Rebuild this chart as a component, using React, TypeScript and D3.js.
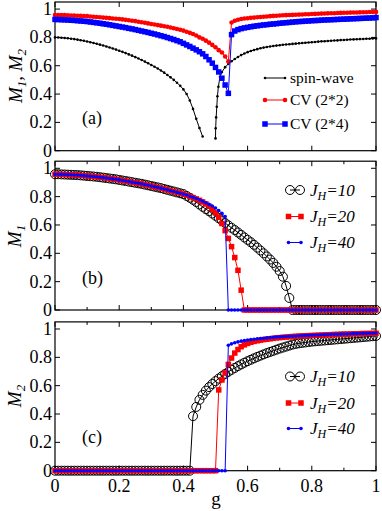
import React from "react";
import * as d3 from "d3";

// g grid (step 0.01) shared by the CV and J_H series
const gGrid = [
  0, 0.01, 0.02, 0.03, 0.04, 0.05, 0.06, 0.07, 0.08, 0.09,
  0.1, 0.11, 0.12, 0.13, 0.14, 0.15, 0.16, 0.17, 0.18, 0.19,
  0.2, 0.21, 0.22, 0.23, 0.24, 0.25, 0.26, 0.27, 0.28, 0.29,
  0.3, 0.31, 0.32, 0.33, 0.34, 0.35, 0.36, 0.37, 0.38, 0.39,
  0.4, 0.41, 0.42, 0.43, 0.44, 0.45, 0.46, 0.47, 0.48, 0.49,
  0.5, 0.51, 0.52, 0.53, 0.54, 0.55, 0.56, 0.57, 0.58, 0.59,
  0.6, 0.61, 0.62, 0.63, 0.64, 0.65, 0.66, 0.67, 0.68, 0.69,
  0.7, 0.71, 0.72, 0.73, 0.74, 0.75, 0.76, 0.77, 0.78, 0.79,
  0.8, 0.81, 0.82, 0.83, 0.84, 0.85, 0.86, 0.87, 0.88, 0.89,
  0.9, 0.91, 0.92, 0.93, 0.94, 0.95, 0.96, 0.97, 0.98, 0.99,
  1,
];

// ---- panel (a): spin-wave, CV (2*2), CV (2*4)
const spinWaveLeft: [number, number][] = [
  [0, 0.8], [0.01, 0.799], [0.02, 0.798], [0.03, 0.796], [0.04, 0.794], [0.05, 0.791],
  [0.06, 0.788], [0.07, 0.784], [0.08, 0.78], [0.09, 0.776], [0.1, 0.771], [0.11, 0.766],
  [0.12, 0.761], [0.13, 0.755], [0.14, 0.749], [0.15, 0.743], [0.16, 0.736], [0.17, 0.729],
  [0.18, 0.722], [0.19, 0.714], [0.2, 0.706], [0.21, 0.698], [0.22, 0.689], [0.23, 0.68],
  [0.24, 0.671], [0.25, 0.661], [0.26, 0.651], [0.27, 0.64], [0.28, 0.629], [0.29, 0.617],
  [0.3, 0.605], [0.31, 0.593], [0.32, 0.58], [0.33, 0.566], [0.34, 0.551], [0.35, 0.535],
  [0.36, 0.518], [0.37, 0.5], [0.38, 0.48], [0.39, 0.458], [0.4, 0.433], [0.41, 0.4],
  [0.42, 0.355], [0.43, 0.295], [0.44, 0.225], [0.45, 0.16], [0.46, 0.1],
];
const spinWaveRight: [number, number][] = [
  [0.5, 0.087], [0.5005, 0.158], [0.502, 0.235], [0.504, 0.31], [0.506, 0.385], [0.509, 0.452],
  [0.514, 0.522], [0.52, 0.555], [0.53, 0.59], [0.54, 0.612], [0.55, 0.632], [0.56, 0.648],
  [0.57, 0.662], [0.58, 0.675], [0.59, 0.686], [0.6, 0.696], [0.61, 0.704], [0.62, 0.711],
  [0.63, 0.717], [0.64, 0.723], [0.65, 0.728], [0.66, 0.732], [0.67, 0.736], [0.68, 0.739],
  [0.69, 0.742], [0.7, 0.745], [0.71, 0.748], [0.72, 0.75], [0.73, 0.752], [0.74, 0.754],
  [0.75, 0.756], [0.76, 0.758], [0.77, 0.76], [0.78, 0.762], [0.79, 0.764], [0.8, 0.766],
  [0.81, 0.768], [0.82, 0.77], [0.83, 0.772], [0.84, 0.773], [0.85, 0.775], [0.86, 0.776],
  [0.87, 0.778], [0.88, 0.779], [0.89, 0.781], [0.9, 0.782], [0.91, 0.783], [0.92, 0.785],
  [0.93, 0.786], [0.94, 0.787], [0.95, 0.788], [0.96, 0.789], [0.97, 0.79], [0.98, 0.791],
  [0.99, 0.792], [1, 0.793],
];
const cv22 = [
  0.958, 0.958, 0.957, 0.957, 0.956, 0.955, 0.954, 0.953, 0.952, 0.951,
  0.95, 0.948, 0.946, 0.944, 0.942, 0.94, 0.938, 0.936, 0.934, 0.932,
  0.93, 0.927, 0.924, 0.921, 0.918, 0.915, 0.911, 0.907, 0.903, 0.899,
  0.895, 0.891, 0.887, 0.883, 0.879, 0.875, 0.87, 0.865, 0.859, 0.854,
  0.848, 0.84, 0.832, 0.824, 0.813, 0.8, 0.79, 0.777, 0.763, 0.747,
  0.73, 0.71, 0.693, 0.665, 0.63, 0.905, 0.918, 0.925, 0.93, 0.933,
  0.935, 0.938, 0.94, 0.942, 0.944, 0.946, 0.948, 0.95, 0.952, 0.953,
  0.955, 0.956, 0.957, 0.958, 0.959, 0.96, 0.961, 0.962, 0.963, 0.964,
  0.965, 0.966, 0.967, 0.968, 0.969, 0.97, 0.971, 0.971, 0.972, 0.973,
  0.974, 0.974, 0.975, 0.976, 0.976, 0.977, 0.978, 0.978, 0.979, 0.979,
  0.98,
];
const cv24 = [
  0.927, 0.926, 0.925, 0.924, 0.923, 0.921, 0.92, 0.918, 0.916, 0.914,
  0.912, 0.909, 0.906, 0.903, 0.9, 0.896, 0.893, 0.889, 0.885, 0.881,
  0.877, 0.873, 0.869, 0.864, 0.86, 0.855, 0.85, 0.845, 0.84, 0.835,
  0.829, 0.824, 0.818, 0.812, 0.806, 0.799, 0.792, 0.785, 0.777, 0.769,
  0.758, 0.747, 0.736, 0.724, 0.712, 0.699, 0.684, 0.665, 0.642, 0.618,
  0.588, 0.556, 0.512, 0.464, 0.405, 0.82, 0.845, 0.855, 0.862, 0.867,
  0.871, 0.875, 0.879, 0.882, 0.885, 0.888, 0.89, 0.893, 0.895, 0.897,
  0.9, 0.902, 0.904, 0.906, 0.908, 0.91, 0.912, 0.913, 0.915, 0.916,
  0.918, 0.919, 0.92, 0.922, 0.923, 0.924, 0.925, 0.926, 0.927, 0.928,
  0.929, 0.93, 0.931, 0.932, 0.933, 0.934, 0.935, 0.936, 0.937, 0.938,
  0.94,
];

// ---- panel (b): M1 for J_H = 10, 20, 40
const m1J10 = [
  0.958, 0.958, 0.957, 0.956, 0.955, 0.954, 0.953, 0.952, 0.95, 0.948,
  0.946, 0.944, 0.942, 0.94, 0.937, 0.934, 0.931, 0.928, 0.925, 0.922,
  0.918, 0.914, 0.91, 0.906, 0.902, 0.898, 0.894, 0.89, 0.885, 0.88,
  0.875, 0.87, 0.865, 0.86, 0.854, 0.848, 0.842, 0.836, 0.83, 0.824,
  0.818, 0.805, 0.792, 0.778, 0.762, 0.745, 0.728, 0.712, 0.697, 0.681,
  0.665, 0.648, 0.631, 0.614, 0.597, 0.58, 0.564, 0.547, 0.53, 0.512,
  0.495, 0.478, 0.46, 0.44, 0.42, 0.4, 0.378, 0.356, 0.332, 0.305,
  0.275, 0.235, 0.17, 0.085, 0, 0, 0, 0, 0, 0,
  0, 0, 0, 0, 0, 0, 0, 0, 0, 0,
  0, 0, 0, 0, 0, 0, 0, 0, 0, 0,
  0,
];
const m1J20 = [
  0.958, 0.958, 0.957, 0.956, 0.955, 0.954, 0.953, 0.952, 0.95, 0.948,
  0.946, 0.944, 0.942, 0.94, 0.937, 0.934, 0.931, 0.928, 0.925, 0.922,
  0.918, 0.914, 0.91, 0.906, 0.902, 0.898, 0.894, 0.89, 0.885, 0.88,
  0.875, 0.87, 0.865, 0.86, 0.854, 0.848, 0.842, 0.836, 0.83, 0.824,
  0.818, 0.81, 0.802, 0.793, 0.784, 0.774, 0.762, 0.748, 0.732, 0.71,
  0.685, 0.655, 0.61, 0.56, 0.505, 0.447, 0.37, 0.28, 0.14, 0,
  0, 0, 0, 0, 0, 0, 0, 0, 0, 0,
  0, 0, 0, 0, 0, 0, 0, 0, 0, 0,
  0, 0, 0, 0, 0, 0, 0, 0, 0, 0,
  0, 0, 0, 0, 0, 0, 0, 0, 0, 0,
  0,
];
const m1J40 = [
  0.958, 0.958, 0.957, 0.956, 0.955, 0.954, 0.953, 0.952, 0.95, 0.948,
  0.946, 0.944, 0.942, 0.94, 0.937, 0.934, 0.931, 0.928, 0.925, 0.922,
  0.918, 0.914, 0.91, 0.906, 0.902, 0.898, 0.894, 0.89, 0.885, 0.88,
  0.875, 0.87, 0.865, 0.86, 0.854, 0.848, 0.842, 0.836, 0.83, 0.824,
  0.818, 0.811, 0.803, 0.795, 0.787, 0.778, 0.768, 0.757, 0.745, 0.733,
  0.72, 0.702, 0.682, 0.66, 0, 0, 0, 0, 0, 0,
  0, 0, 0, 0, 0, 0, 0, 0, 0, 0,
  0, 0, 0, 0, 0, 0, 0, 0, 0, 0,
  0, 0, 0, 0, 0, 0, 0, 0, 0, 0,
  0, 0, 0, 0, 0, 0, 0, 0, 0, 0,
  0,
];

// ---- panel (c): M2 for J_H = 10, 20, 40
const m2J10 = [
  0, 0, 0, 0, 0, 0, 0, 0, 0, 0,
  0, 0, 0, 0, 0, 0, 0, 0, 0, 0,
  0, 0, 0, 0, 0, 0, 0, 0, 0, 0,
  0, 0, 0, 0, 0, 0, 0, 0, 0, 0,
  0, 0, 0, 0.385, 0.45, 0.5, 0.535, 0.565, 0.59, 0.612,
  0.632, 0.65, 0.667, 0.683, 0.698, 0.712, 0.725, 0.738, 0.75, 0.762,
  0.773, 0.783, 0.793, 0.803, 0.812, 0.821, 0.83, 0.838, 0.846, 0.854,
  0.862, 0.869, 0.876, 0.883, 0.89, 0.895, 0.899, 0.902, 0.905, 0.908,
  0.911, 0.913, 0.915, 0.917, 0.919, 0.921, 0.923, 0.925, 0.927, 0.929,
  0.931, 0.933, 0.935, 0.937, 0.939, 0.941, 0.943, 0.945, 0.947, 0.949,
  0.951,
];
const m2J20 = [
  0, 0, 0, 0, 0, 0, 0, 0, 0, 0,
  0, 0, 0, 0, 0, 0, 0, 0, 0, 0,
  0, 0, 0, 0, 0, 0, 0, 0, 0, 0,
  0, 0, 0, 0, 0, 0, 0, 0, 0, 0,
  0, 0, 0, 0, 0, 0, 0, 0, 0, 0,
  0, 0.57, 0.64, 0.69, 0.75, 0.795, 0.83, 0.855, 0.875, 0.888,
  0.898, 0.906, 0.912, 0.917, 0.921, 0.925, 0.928, 0.931, 0.934, 0.937,
  0.939, 0.941, 0.943, 0.945, 0.947, 0.948, 0.95, 0.951, 0.952, 0.953,
  0.954, 0.955, 0.956, 0.957, 0.958, 0.959, 0.96, 0.961, 0.962, 0.963,
  0.964, 0.964, 0.965, 0.966, 0.966, 0.967, 0.968, 0.968, 0.969, 0.969,
  0.97,
];
const m2J40 = [
  0, 0, 0, 0, 0, 0, 0, 0, 0, 0,
  0, 0, 0, 0, 0, 0, 0, 0, 0, 0,
  0, 0, 0, 0, 0, 0, 0, 0, 0, 0,
  0, 0, 0, 0, 0, 0, 0, 0, 0, 0,
  0, 0, 0, 0, 0, 0, 0, 0, 0, 0,
  0, 0, 0, 0, 0.885, 0.895, 0.903, 0.909, 0.914, 0.918,
  0.922, 0.925, 0.928, 0.931, 0.933, 0.935, 0.937, 0.939, 0.941, 0.943,
  0.944, 0.946, 0.947, 0.948, 0.949, 0.95, 0.952, 0.953, 0.954, 0.955,
  0.956, 0.957, 0.958, 0.959, 0.96, 0.961, 0.962, 0.962, 0.963, 0.964,
  0.965, 0.965, 0.966, 0.967, 0.967, 0.968, 0.969, 0.969, 0.97, 0.97,
  0.971,
];

const legendA = ["spin-wave", "CV (2*2)", "CV (2*4)"];
const legendJ = ["10", "20", "40"];
const yTicks = [0, 0.2, 0.4, 0.6, 0.8, 1];

const FONT = "Liberation Serif, DejaVu Serif, serif";
const RED = "#ff0000";
const BLUE = "#0000ff";

const x = d3.scaleLinear().domain([0, 1]).range([55, 376]);
const yA = d3.scaleLinear().domain([0, 1.05]).range([150.7, 2]);
const yB = d3.scaleLinear().domain([0, 1.05]).range([310, 161.2]);
const yC = d3.scaleLinear().domain([0, 1.05]).range([470.7, 321.9]);

const onGrid = (vals: number[]): [number, number][] => vals.map((v, i) => [gGrid[i], v]);

type Marker = "dot" | "ring" | "square";

function drawMarker(kind: Marker, cx: number, cy: number, size: number, color: string, key: any) {
  if (kind === "square")
    return <rect key={key} x={cx - size / 2} y={cy - size / 2} width={size} height={size} fill={color} />;
  if (kind === "ring")
    return <circle key={key} cx={cx} cy={cy} r={size} fill="none" stroke={color} strokeWidth={1} />;
  return <circle key={key} cx={cx} cy={cy} r={size} fill={color} />;
}

function Series({ pts, y, color, marker, size }: { pts: [number, number][]; y: any; color: string; marker: Marker; size: number }) {
  const line = d3.line<[number, number]>().x((d) => x(d[0])).y((d) => y(d[1]));
  return (
    <g>
      <path d={line(pts) || ""} fill="none" stroke={color} strokeWidth={1} />
      {pts.map((d, i) => drawMarker(marker, x(d[0]), y(d[1]), size, color, i))}
    </g>
  );
}

function Frame({ y, minor, labels }: { y: any; minor: boolean; labels: boolean }) {
  const [bottom, top] = y.range();
  const left = x.range()[0];
  const right = x.range()[1];
  const major = x.ticks(5);
  const minors = minor ? x.ticks(10).filter((t) => !major.some((m) => Math.abs(m - t) < 1e-9)) : [];
  return (
    <g>
      <rect x={left} y={top} width={right - left} height={bottom - top} fill="none" stroke="#000" strokeWidth={1.2} />
      {major.map((t) => (
        <g key={"M" + t}>
          <line x1={x(t)} x2={x(t)} y1={bottom} y2={bottom - 5} stroke="#000" />
          <line x1={x(t)} x2={x(t)} y1={top} y2={top + 5} stroke="#000" />
        </g>
      ))}
      {minors.map((t) => (
        <g key={"m" + t}>
          <line x1={x(t)} x2={x(t)} y1={bottom} y2={bottom - 3} stroke="#000" />
          <line x1={x(t)} x2={x(t)} y1={top} y2={top + 3} stroke="#000" />
        </g>
      ))}
      {yTicks.map((t) => (
        <g key={"y" + t}>
          <line x1={left} x2={left + 5} y1={y(t)} y2={y(t)} stroke="#000" />
          <line x1={right} x2={right - 5} y1={y(t)} y2={y(t)} stroke="#000" />
          <text x={left - 3} y={y(t)} dy="0.33em" textAnchor="end" fontSize={18}>
            {String(t)}
          </text>
        </g>
      ))}
      {labels &&
        major.map((t) => (
          <text key={"xl" + t} x={x(t)} y={491.5} textAnchor="middle" fontSize={18}>
            {String(t)}
          </text>
        ))}
    </g>
  );
}

function LegendRow({ cy, color, marker, size, x1, x2, children }: any) {
  return (
    <g>
      <line x1={x1} x2={x2} y1={cy} y2={cy} stroke={color} strokeWidth={1} />
      {drawMarker(marker, x1, cy, size, color, "a")}
      {drawMarker(marker, x2, cy, size, color, "b")}
      {children}
    </g>
  );
}

function JLabel({ tx, ty, value }: { tx: number; ty: number; value: string }) {
  return (
    <text x={tx} y={ty} dy="0.35em" fontSize={17} fontStyle="italic">
      J<tspan fontSize={12} dy={4}>H</tspan>
      <tspan dy={-4}>={value}</tspan>
    </text>
  );
}

export default function App() {
  const rowsB = [190, 216.5, 242.5];
  const rowsC = [376.5, 403, 428.5];
  return (
    <svg
      width={382}
      height={511}
      style={{ position: "absolute", left: 0, top: 0, background: "#fff", fontFamily: FONT }}
    >
      {/* (a) */}
      <Frame y={yA} minor={false} labels={false} />
      <Series pts={spinWaveLeft} y={yA} color="#000" marker="dot" size={1.3} />
      <Series pts={spinWaveRight} y={yA} color="#000" marker="dot" size={1.3} />
      <Series pts={onGrid(cv22)} y={yA} color={RED} marker="dot" size={2.3} />
      <Series pts={onGrid(cv24)} y={yA} color={BLUE} marker="square" size={5.5} />
      <text x={82} y={124} fontSize={18}>(a)</text>
      <LegendRow cy={78} color="#000" marker="dot" size={1.3} x1={265} x2={285}>
        <text x={290} y={78} dy="0.35em" fontSize={15.5}>{legendA[0]}</text>
      </LegendRow>
      <LegendRow cy={100} color={RED} marker="dot" size={2.3} x1={265} x2={285}>
        <text x={290} y={100} dy="0.35em" fontSize={15.5}>{legendA[1]}</text>
      </LegendRow>
      <LegendRow cy={124} color={BLUE} marker="square" size={5.5} x1={265} x2={285}>
        <text x={290} y={124} dy="0.35em" fontSize={15.5}>{legendA[2]}</text>
      </LegendRow>
      <text transform="translate(22,76) rotate(-90)" textAnchor="middle" fontSize={19} fontStyle="italic">
        M<tspan fontSize={13} dy={4}>1</tspan>
        <tspan dy={-4}>, M</tspan>
        <tspan fontSize={13} dy={4}>2</tspan>
      </text>

      {/* (b) */}
      <Frame y={yB} minor={true} labels={false} />
      <Series pts={onGrid(m1J10)} y={yB} color="#000" marker="ring" size={4.5} />
      <Series pts={onGrid(m1J20)} y={yB} color={RED} marker="square" size={5.5} />
      <Series pts={onGrid(m1J40)} y={yB} color={BLUE} marker="dot" size={1.8} />
      <text x={82} y={284} fontSize={18}>(b)</text>
      <LegendRow cy={rowsB[0]} color="#000" marker="ring" size={4.5} x1={290} x2={300}>
        <JLabel tx={310} ty={rowsB[0]} value={legendJ[0]} />
      </LegendRow>
      <LegendRow cy={rowsB[1]} color={RED} marker="square" size={5.5} x1={288.5} x2={301}>
        <JLabel tx={310} ty={rowsB[1]} value={legendJ[1]} />
      </LegendRow>
      <LegendRow cy={rowsB[2]} color={BLUE} marker="dot" size={1.8} x1={288.5} x2={301}>
        <JLabel tx={310} ty={rowsB[2]} value={legendJ[2]} />
      </LegendRow>
      <text transform="translate(21,236) rotate(-90)" textAnchor="middle" fontSize={19} fontStyle="italic">
        M<tspan fontSize={13} dy={4}>1</tspan>
      </text>

      {/* (c) */}
      <Frame y={yC} minor={true} labels={true} />
      <Series pts={onGrid(m2J10)} y={yC} color="#000" marker="ring" size={4.5} />
      <Series pts={onGrid(m2J20)} y={yC} color={RED} marker="square" size={5.5} />
      <Series pts={onGrid(m2J40)} y={yC} color={BLUE} marker="dot" size={1.8} />
      <text x={82} y={443} fontSize={18}>(c)</text>
      <LegendRow cy={rowsC[0]} color="#000" marker="ring" size={4.5} x1={290} x2={300}>
        <JLabel tx={310} ty={rowsC[0]} value={legendJ[0]} />
      </LegendRow>
      <LegendRow cy={rowsC[1]} color={RED} marker="square" size={5.5} x1={288.5} x2={301}>
        <JLabel tx={310} ty={rowsC[1]} value={legendJ[1]} />
      </LegendRow>
      <LegendRow cy={rowsC[2]} color={BLUE} marker="dot" size={1.8} x1={288.5} x2={301}>
        <JLabel tx={310} ty={rowsC[2]} value={legendJ[2]} />
      </LegendRow>
      <text transform="translate(21,396) rotate(-90)" textAnchor="middle" fontSize={19} fontStyle="italic">
        M<tspan fontSize={13} dy={4}>2</tspan>
      </text>

      <text x={216} y={505} textAnchor="middle" fontSize={19}>g</text>
    </svg>
  );
}
